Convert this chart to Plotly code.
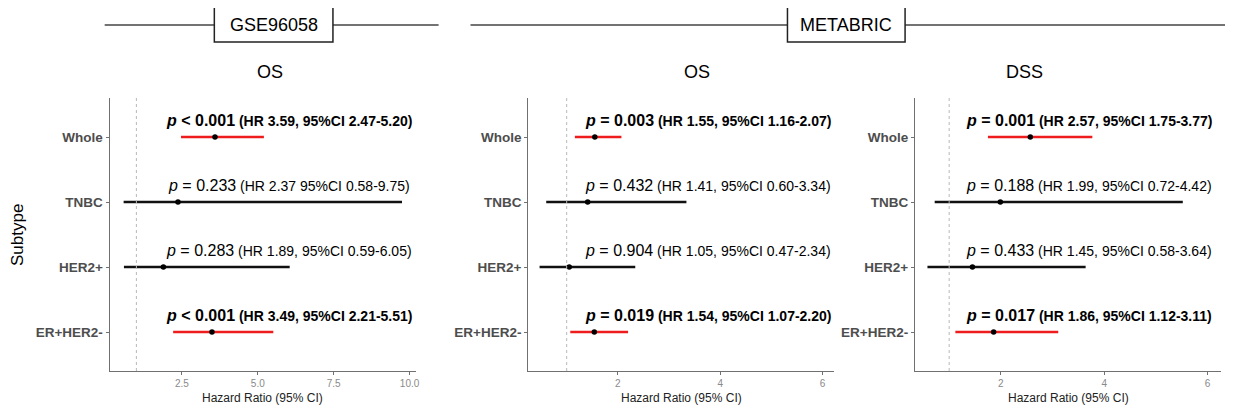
import plotly.graph_objects as go

# ---------------- data ----------------
subtypes = ["Whole", "TNBC", "HER2+", "ER+HER2-"]

gse_os_hr = [3.59, 2.37, 1.89, 3.49]
gse_os_lo = [2.47, 0.58, 0.59, 2.21]
gse_os_hi = [5.20, 9.75, 6.05, 5.51]
gse_os_p = [0.001, 0.233, 0.283, 0.001]
gse_os_p_text = ["< 0.001", "= 0.233", "= 0.283", "< 0.001"]
gse_os_ci_text = ["(HR 3.59, 95%CI 2.47-5.20)", "(HR 2.37 95%CI 0.58-9.75)",
                  "(HR 1.89, 95%CI 0.59-6.05)", "(HR 3.49, 95%CI 2.21-5.51)"]

met_os_hr = [1.55, 1.41, 1.05, 1.54]
met_os_lo = [1.16, 0.60, 0.47, 1.07]
met_os_hi = [2.07, 3.34, 2.34, 2.20]
met_os_p = [0.003, 0.432, 0.904, 0.019]
met_os_p_text = ["= 0.003", "= 0.432", "= 0.904", "= 0.019"]
met_os_ci_text = ["(HR 1.55, 95%CI 1.16-2.07)", "(HR 1.41, 95%CI 0.60-3.34)",
                  "(HR 1.05, 95%CI 0.47-2.34)", "(HR 1.54, 95%CI 1.07-2.20)"]

met_dss_hr = [2.57, 1.99, 1.45, 1.86]
met_dss_lo = [1.75, 0.72, 0.58, 1.12]
met_dss_hi = [3.77, 5.52, 3.64, 3.11]
met_dss_p = [0.001, 0.188, 0.433, 0.017]
met_dss_p_text = ["= 0.001", "= 0.188", "= 0.433", "= 0.017"]
met_dss_ci_text = ["(HR 2.57, 95%CI 1.75-3.77)", "(HR 1.99, 95%CI 0.72-4.42)",
                   "(HR 1.45, 95%CI 0.58-3.64)", "(HR 1.86, 95%CI 1.12-3.11)"]

panel_titles = ["OS", "OS", "DSS"]
cohorts = ["GSE96058", "METABRIC"]
gse_ticks = [2.5, 5.0, 7.5, 10.0]
met_ticks = [2, 4, 6]
ref_line = 1

panels = [
    dict(hr=gse_os_hr, lo=gse_os_lo, hi=gse_os_hi, p=gse_os_p, pt=gse_os_p_text,
         ci=gse_os_ci_text, ticks=gse_ticks, fmt=".1f"),
    dict(hr=met_os_hr, lo=met_os_lo, hi=met_os_hi, p=met_os_p, pt=met_os_p_text,
         ci=met_os_ci_text, ticks=met_ticks, fmt="d"),
    dict(hr=met_dss_hr, lo=met_dss_lo, hi=met_dss_hi, p=met_dss_p, pt=met_dss_p_text,
         ci=met_dss_ci_text, ticks=met_ticks, fmt="d"),
]

# ---------------- layout / style ----------------
W, H = 1233, 412
OFF = 8  # page body margin
FONT = "Liberation Sans, Arial, Helvetica, sans-serif"
x_dom_px = [(110, 417), (530, 837), (918, 1225)]
x_ranges = [[0.12, 10.2], [0.25, 6.23], [0.34, 6.26]]
label_x = [6.03, 3.76, 3.7]
title_x_px = [270.5, 699, 1028]
y_dom_px = (98, 371)
AXIS_COLOR = "#707070"

def fx(p):
    return (p - OFF) / W

def fy(p):
    return 1 - (p - OFF) / H

fig = go.Figure()
annotations = []
shapes = []

for i, pan in enumerate(panels):
    n = i + 1
    xr = "x" if n == 1 else f"x{n}"
    yr = "y" if n == 1 else f"y{n}"
    for sig in (True, False):
        xs, ys = [], []
        for k, s in enumerate(subtypes):
            if (pan["p"][k] < 0.05) == sig:
                xs += [pan["lo"][k], pan["hi"][k], None]
                ys += [s, s, None]
        fig.add_trace(go.Scatter(x=xs, y=ys, mode="lines", xaxis=xr, yaxis=yr,
                                 line=dict(color="#ee1c1c" if sig else "#111111", width=2.5),
                                 showlegend=False, hoverinfo="skip"))
    fig.add_trace(go.Scatter(x=pan["hr"], y=subtypes, mode="markers", xaxis=xr, yaxis=yr,
                             marker=dict(color="black", size=5.5), showlegend=False))

    fig.update_layout(**{
        ("xaxis" if n == 1 else f"xaxis{n}"): dict(
            domain=[fx(x_dom_px[i][0]), fx(x_dom_px[i][1])], range=x_ranges[i],
            anchor=yr, showline=True, linecolor=AXIS_COLOR, linewidth=1.3,
            ticks="outside", ticklen=3, tickcolor=AXIS_COLOR, tickwidth=1,
            tickvals=pan["ticks"], tickformat=pan["fmt"],
            tickfont=dict(size=10, color="#8a8a8a", family=FONT),
            showgrid=False, zeroline=False),
        ("yaxis" if n == 1 else f"yaxis{n}"): dict(
            domain=[fy(y_dom_px[1]), fy(y_dom_px[0])], anchor=xr,
            type="category", categoryorder="array", categoryarray=subtypes,
            range=[3.6, -0.6], showline=True, linecolor=AXIS_COLOR, linewidth=1.3,
            ticks="outside", ticklen=3, tickcolor=AXIS_COLOR,
            tickfont=dict(size=13.5, color="#4d4d4d", family=FONT, weight="bold"),
            showgrid=False, zeroline=False),
    })

    shapes.append(dict(type="line", xref=xr, yref=f"{yr} domain", x0=ref_line, x1=ref_line,
                       y0=0, y1=1, line=dict(color="#b8b8b8", width=1, dash="dot")))

    for k, s in enumerate(subtypes):
        if pan["p"][k] < 0.05:
            txt = (f'<span style="font-size:16px"><b><i>p</i> {pan["pt"][k].replace("<", "&lt;")}</b></span>'
                   f' <b>{pan["ci"][k]}</b>')
        else:
            txt = (f'<span style="font-size:16px"><i>p</i> {pan["pt"][k].replace("<", "&lt;")}</span>'
                   f' {pan["ci"][k]}')
        annotations.append(dict(x=label_x[i], y=s, xref=xr, yref=yr, text=txt,
                                showarrow=False, xanchor="center", yanchor="middle",
                                yshift=17, font=dict(size=14, color="black", family=FONT)))

    # panel title
    annotations.append(dict(x=fx(title_x_px[i]), y=fy(72), xref="paper", yref="paper",
                            text=panel_titles[i], showarrow=False, xanchor="center",
                            yanchor="middle", font=dict(size=18, color="black", family=FONT)))
    # x axis title
    cx = (x_dom_px[i][0] + x_dom_px[i][1]) / 2
    annotations.append(dict(x=fx(cx), y=fy(398), xref="paper", yref="paper",
                            text="Hazard Ratio (95% CI)", showarrow=False, xanchor="center",
                            yanchor="middle", font=dict(size=12, color="#222222", family=FONT)))

# y axis title
annotations.append(dict(x=fx(17), y=fy(235), xref="paper", yref="paper", text="Subtype",
                        showarrow=False, textangle=-90, xanchor="center", yanchor="middle",
                        font=dict(size=17, color="black", family=FONT)))

# cohort headers
header_lines = [(105, 440), (472, 1233)]
header_boxes = [(215, 334), (790, 908)]
for (l0, l1), (b0, b1), name in zip(header_lines, header_boxes, cohorts):
    shapes.append(dict(type="line", xref="paper", yref="paper", x0=fx(l0), x1=fx(l1),
                       y0=fy(25), y1=fy(25), line=dict(color="#444444", width=1.3)))
    shapes.append(dict(type="rect", xref="paper", yref="paper", x0=fx(b0), x1=fx(b1),
                       y0=fy(42), y1=fy(7), fillcolor="white",
                       line=dict(color="#222222", width=1.5)))
    annotations.append(dict(x=fx((b0 + b1) / 2), y=fy(25), xref="paper", yref="paper",
                            text=name, showarrow=False, xanchor="center", yanchor="middle",
                            font=dict(size=18, color="black", family=FONT)))

fig.update_layout(width=W, height=H, margin=dict(l=0, r=0, t=0, b=0),
                  paper_bgcolor="white", plot_bgcolor="white",
                  shapes=shapes, annotations=annotations, font=dict(family=FONT))

fig.write_html("out.html")
